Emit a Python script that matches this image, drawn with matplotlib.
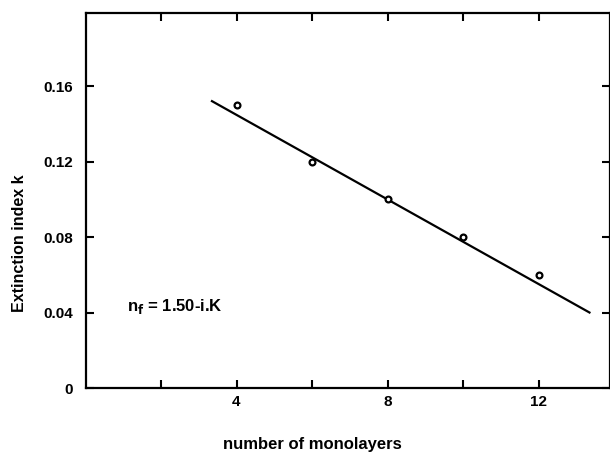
import numpy as np
import matplotlib.pyplot as plt

layers = [4, 6, 8, 10, 12]
k_meas = [0.150, 0.120, 0.100, 0.080, 0.060]

# straight line drawn through the points
fit_x = [3.35, 13.35]
fit_k = [0.152, 0.040]

xticks = [2, 4, 6, 8, 10, 12]
xticklabels = ['', '4', '', '8', '', '12']
yticks = [0, 0.04, 0.08, 0.12, 0.16]
yticklabels = ['0', '0.04', '0.08', '0.12', '0.16']

plt.rcParams['font.family'] = ['Liberation Sans', 'DejaVu Sans']
plt.rcParams['font.weight'] = 'bold'

fig = plt.figure(figsize=(6.10, 4.57), dpi=100)
ax = fig.add_axes([85.5 / 610, 69 / 457, 524 / 610, 375 / 457])

ax.plot(fit_x, fit_k, color='black', lw=1.6)
ax.plot(layers, k_meas, 'o', mfc='white', mec='black', ms=4.2, mew=1.6)

ax.set_xlim(0, 524 / 37.75)
ax.set_ylim(0, 0.1987)
ax.set_xticks(xticks)
ax.set_xticklabels(xticklabels)
ax.set_yticks(yticks)
ax.set_yticklabels(yticklabels)
ax.tick_params(direction='in', length=6, width=1.5, top=True, right=True,
               labelsize=11)
ax.tick_params(axis='y', pad=9)
ax.tick_params(axis='x', pad=5)
for s in ax.spines.values():
    s.set_linewidth(1.6)

ax.text(1.1, 0.043, r'n$_\mathbf{f}$ = 1.50-i.K', fontsize=12,
        va='center', ha='left')

fig.text(312 / 610, 1 - 445 / 457, 'number of monolayers', fontsize=12,
         ha='center', va='center')
fig.text(20 / 610, 1 - 243 / 457, 'Extinction index k', fontsize=11.5,
         ha='center', va='center', rotation=90)

fig.savefig('out.png', dpi=100)
